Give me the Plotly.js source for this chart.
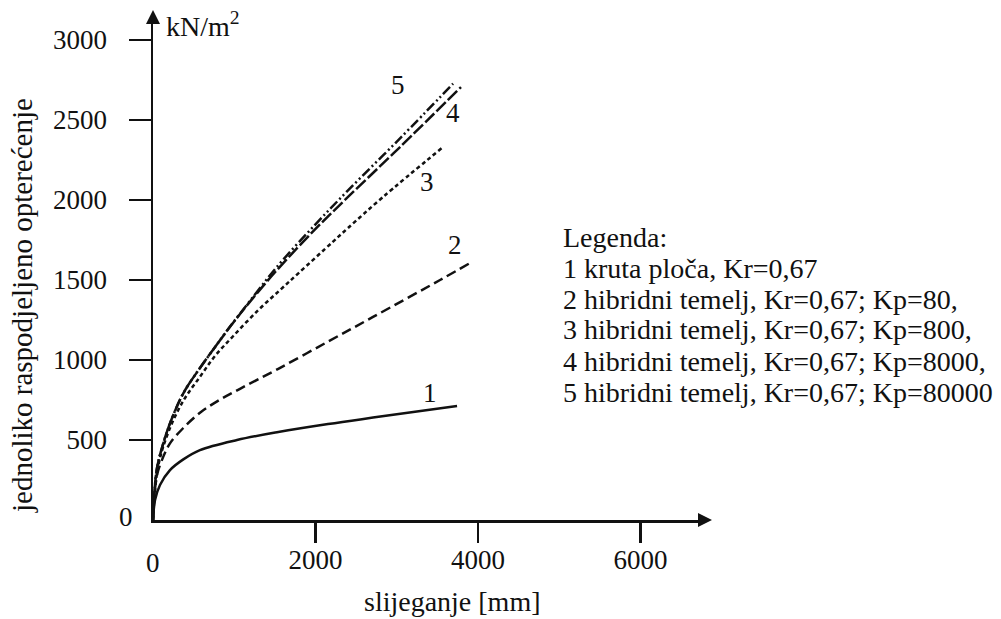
<!DOCTYPE html>
<html>
<head>
<meta charset="utf-8">
<script src="https://cdn.plot.ly/plotly-3.0.1.min.js"></script>
<style>
html,body{margin:0;padding:0;background:#fff;}
#chart{width:1001px;height:619px;}
</style>
</head>
<body>
<div id="chart"></div>
<script>
// ---- data ----
const x1 = [0, 25, 86, 209, 373, 578, 1034, 1542, 2154, 2708, 3742];
const y1 = [0, 125, 219, 312, 379, 437, 500, 550, 600, 640, 712];

const x2 = [0, 45, 127, 209, 373, 578, 784, 1071, 1542, 2154, 2708, 3533, 3902];
const y2 = [0, 271, 396, 479, 575, 670, 740, 820, 945, 1115, 1269, 1500, 1606];

const x3 = [0, 62, 185, 373, 578, 763, 988, 1292, 1563, 1785, 2216, 2400, 2831, 3570];
const y3 = [0, 331, 544, 745, 895, 1025, 1150, 1310, 1437, 1540, 1740, 1825, 2019, 2331];

const x4 = [0, 45, 127, 209, 373, 578, 784, 960, 1194, 1522, 1994, 2400, 3040, 3791];
const y4 = [0, 312, 479, 604, 792, 950, 1095, 1215, 1365, 1560, 1816, 2019, 2331, 2706];

const x5 = [0, 45, 127, 209, 373, 578, 784, 960, 1194, 1522, 1994, 2400, 3040, 3693];
const y5 = [0, 312, 479, 604, 792, 950, 1095, 1217, 1370, 1580, 1845, 2060, 2385, 2727];

const curveLabels = ['1', '2', '3', '4', '5'];
const curveLabelX = [3410, 3718, 3373, 3693, 3016];
const curveLabelY = [794, 1719, 2113, 2544, 2719];

const xTickVals = [2000, 4000, 6000];
const xTickText = ['2000', '4000', '6000'];
const yTickVals = [500, 1000, 1500, 2000, 2500, 3000];
const yTickText = ['500', '1000', '1500', '2000', '2500', '3000'];
const originLabel = '0';

const xTitle = 'slijeganje [mm]';
const yTitle = 'jednoliko raspodjeljeno opterećenje';
const unitLabel = 'kN/m<sup>2</sup>';

const legendLines = [
  'Legenda:',
  '1 kruta ploča, Kr=0,67',
  '2 hibridni temelj, Kr=0,67; Kp=80,',
  '3 hibridni temelj, Kr=0,67; Kp=800,',
  '4 hibridni temelj, Kr=0,67; Kp=8000,',
  '5 hibridni temelj, Kr=0,67; Kp=80000'
];

// ---- layout geometry (pixels) ----
const W = 1001, H = 619;
const L = 153, R = 700, T = 22, B = 520;
const xMax = 6732, yMax = 3112.5;
const pw = R - L, ph = B - T;
const px2paperX = p => (p - L) / pw;
const px2paperY = p => (B - p) / ph;

const FONT = 'Liberation Serif, Times New Roman, serif';
const INK = '#111111';
const LW = 2.5;

const tickFont = {family: FONT, size: 27, color: INK};
const textFont = {family: FONT, size: 28, color: INK};
const titleFont = {family: FONT, size: 29, color: INK};
const xTitleFont = {family: FONT, size: 28, color: INK};

const series = [
  {x: x1, y: y1, dash: 'solid'},
  {x: x2, y: y2, dash: '10px,5px'},
  {x: x3, y: y3, dash: '4px,3px'},
  {x: x4, y: y4, dash: '13px,3px'},
  {x: x5, y: y5, dash: '10px,3px,2px,3px,2px,3px'}
];

const traces = series.map(s => ({
  type: 'scatter', mode: 'lines', x: s.x, y: s.y,
  line: {color: INK, width: LW, dash: s.dash, shape: 'spline', smoothing: 1},
  hoverinfo: 'skip', showlegend: false
}));

function paperNote(text, px, py, font, extra) {
  return Object.assign({
    x: px2paperX(px), y: px2paperY(py), xref: 'paper', yref: 'paper',
    xanchor: 'center', yanchor: 'middle', text: text, showarrow: false, font: font
  }, extra || {});
}

const annotations = [];
curveLabels.forEach((t, i) => annotations.push({
  x: curveLabelX[i], y: curveLabelY[i], xref: 'x', yref: 'y', text: t,
  xanchor: 'center', yanchor: 'middle', showarrow: false, font: tickFont
}));
annotations.push(paperNote(originLabel, 126, 517, tickFont));
annotations.push(paperNote(originLabel, 153, 563, tickFont));
annotations.push(paperNote(yTitle, 22, 306, titleFont, {textangle: -90}));
annotations.push(paperNote(xTitle, 452, 601, xTitleFont));
annotations.push(paperNote(unitLabel, 164, 24, textFont, {xanchor: 'left'}));
legendLines.forEach((t, i) => annotations.push(
  paperNote(t, 561, 237 + 31 * i, textFont, {xanchor: 'left'})
));

const shapes = [
  {type: 'path', xref: 'paper', yref: 'paper', xsizemode: 'pixel', ysizemode: 'pixel',
   xanchor: 1, yanchor: 0, path: 'M -2,-7 L 12,0 L -2,7 Z',
   fillcolor: INK, line: {width: 0}},
  {type: 'path', xref: 'paper', yref: 'paper', xsizemode: 'pixel', ysizemode: 'pixel',
   xanchor: 0, yanchor: 1, path: 'M -7,-2 L 0,12 L 7,-2 Z',
   fillcolor: INK, line: {width: 0}}
];

const layout = {
  width: W, height: H,
  margin: {l: L, r: W - R, t: T, b: H - B, pad: 0},
  paper_bgcolor: '#ffffff', plot_bgcolor: '#ffffff',
  showlegend: false,
  font: textFont,
  xaxis: {
    range: [0, xMax], showgrid: false, zeroline: false,
    showline: true, linecolor: INK, linewidth: LW,
    tickmode: 'array', tickvals: xTickVals, ticktext: xTickText,
    ticks: 'outside', ticklen: 20, tickwidth: LW, tickcolor: INK,
    ticklabelstandoff: -6, tickfont: tickFont
  },
  yaxis: {
    range: [0, yMax], showgrid: false, zeroline: false,
    showline: true, linecolor: INK, linewidth: LW,
    tickmode: 'array', tickvals: yTickVals, ticktext: yTickText,
    ticks: 'outside', ticklen: 22, tickwidth: LW, tickcolor: INK,
    ticklabelstandoff: 16, tickfont: tickFont
  },
  annotations: annotations,
  shapes: shapes
};

Plotly.newPlot('chart', traces, layout, {staticPlot: true, displayModeBar: false});
</script>
</body>
</html>
